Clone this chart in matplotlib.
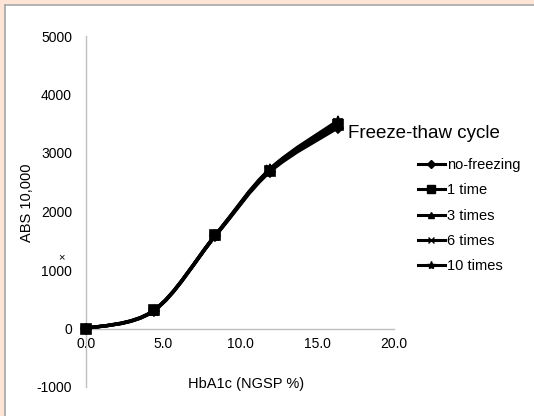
import matplotlib
matplotlib.use("Agg")
import matplotlib.pyplot as plt
import numpy as np
from matplotlib.path import Path
from matplotlib.patches import PathPatch, Rectangle
from matplotlib.lines import Line2D

plt.rcParams['font.family'] = ['Liberation Sans', 'DejaVu Sans']
plt.rcParams['axes.unicode_minus'] = False

# HbA1c (NGSP %) and ABS x 10,000 for each freeze-thaw series
hba1c = [0.0, 4.4, 8.4, 11.95, 16.35]
no_freezing = [0, 300, 1580, 2680, 3430]
one_time = [0, 310, 1590, 2700, 3480]
three_times = [0, 305, 1585, 2710, 3500]
six_times = [0, 300, 1590, 2720, 3520]
ten_times = [0, 310, 1600, 2730, 3550]

series = [
    ('no-freezing', no_freezing, 'D', 5.5, 4.5),
    ('1 time', one_time, 's', 7, 6),
    ('3 times', three_times, '^', 5.5, 5),
    ('6 times', six_times, 'x', 5.5, 5),
    ('10 times', ten_times, '*', 7, 6),
]

x_ticks = [0, 5, 10, 15, 20]
x_ticklabels = ['0.0', '5.0', '10.0', '15.0', '20.0']
y_ticks = [-1000, 0, 1000, 2000, 3000, 4000, 5000]


def smooth_path(xs, ys):
    # Excel-style smoothed line: Catmull-Rom segments as cubic Beziers
    pts = np.column_stack([xs, ys]).astype(float)
    ext = np.vstack([pts[0], pts, pts[-1]])
    verts = [pts[0]]
    codes = [Path.MOVETO]
    for i in range(1, len(ext) - 2):
        p0, p1, p2, p3 = ext[i - 1], ext[i], ext[i + 1], ext[i + 2]
        verts += [p1 + (p2 - p0) / 6, p2 - (p3 - p1) / 6, p2]
        codes += [Path.CURVE4] * 3
    return Path(verts, codes)


fig = plt.figure(figsize=(5.34, 4.16), dpi=100)
fig.patch.set_facecolor('white')

# peach frame on left / top edge
fig.patches.append(Rectangle((0, 0), 5 / 534, 1, transform=fig.transFigure,
                             facecolor='#fde4d4', edgecolor='none', zorder=0))
fig.patches.append(Rectangle((0, 1 - 4 / 416), 1, 4 / 416, transform=fig.transFigure,
                             facecolor='#fde4d4', edgecolor='none', zorder=0))
fig.lines.append(Line2D([5.5 / 534, 5.5 / 534], [0, 1 - 4.5 / 416], transform=fig.transFigure,
                        color='#a6a6a6', lw=1.2))
fig.lines.append(Line2D([5.5 / 534, 1], [1 - 4.5 / 416, 1 - 4.5 / 416], transform=fig.transFigure,
                        color='#a6a6a6', lw=1.2))

ax = fig.add_axes([86 / 534, 1 - 387 / 416, 308 / 534, 351 / 416])
ax.set_facecolor('none')
ax.set_xlim(0, 20)
ax.set_ylim(-1000, 5000)

for sp in ['top', 'right']:
    ax.spines[sp].set_visible(False)
ax.spines['bottom'].set_position(('data', 0))
ax.spines['bottom'].set_color('#bfbfbf')
ax.spines['left'].set_color('#bfbfbf')
ax.spines['bottom'].set_linewidth(1)
ax.spines['left'].set_linewidth(1)

ax.set_xticks(x_ticks)
ax.set_xticklabels(x_ticklabels)
ax.set_yticks(y_ticks)
ax.tick_params(axis='both', length=0, labelsize=10, colors='#000000')
ax.tick_params(axis='y', pad=10)
ax.tick_params(axis='x', pad=6)

handles = []
for label, vals, mk, ms, lms in series:
    ax.add_patch(PathPatch(smooth_path(hba1c, vals), fill=False, edgecolor='black',
                           lw=2.4, capstyle='round', joinstyle='round', zorder=3))
    ax.plot(hba1c, vals, linestyle='none', marker=mk, markersize=ms, color='black',
            markeredgewidth=1.2, zorder=4, clip_on=False)
    handles.append(Line2D([], [], color='black', lw=2.2, marker=mk, markersize=lms,
                          markeredgewidth=1.0, label=label))

ax.text(0.52, (387 - 384) / 351, 'HbA1c (NGSP %)', transform=ax.transAxes,
        ha='center', va='center', fontsize=10.5)
ax.text((27 - 86) / 308, (387 - 203) / 351, 'ABS 10,000', transform=ax.transAxes,
        ha='center', va='center', rotation=90, fontsize=10.5)
ax.text((61 - 86) / 308, (387 - 257) / 351, '×', transform=ax.transAxes,
        ha='center', va='center', fontsize=8)

fig.text(348 / 534, 1 - 134 / 416, 'Freeze-thaw cycle', ha='left', va='center', fontsize=13.5)
fig.legend(handles=handles, loc='upper left', bbox_to_anchor=(418 / 534, 1 - 158 / 416),
           frameon=False, fontsize=10.5, handlelength=1.85, handletextpad=0.15,
           labelspacing=0.78, borderaxespad=0, borderpad=0)

fig.savefig('out.png', dpi=100, facecolor='white')
